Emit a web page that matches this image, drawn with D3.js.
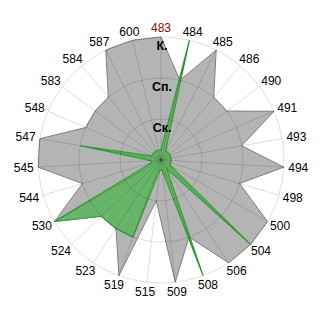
<!DOCTYPE html>
<html lang="ru">
<script src="https://d3js.org/d3.v7.min.js"></script>
<style>
  body { margin: 0; background: #fff; }
  svg text { font-family: "Liberation Sans", Arial, sans-serif; }
</style>
<body>
<svg width="320" height="320" id="chart"></svg>
<script>
  // categories around the radar, clockwise from the top
  var categories = ["483","484","485","486","490","491","493","494","498","500","504","506","508",
                    "509","515","519","523","524","530","544","545","547","548","583","584","587","600"];
  // level names for rings 1..3
  var levels = ["Ск.", "Сп.", "К."];
  // grey series
  var seriesGrey = [3,2,3,2,2,3,2,3,2,3,3,3,2,3,1,3,2,2,3,2,3,3,2,2,2,3,3];
  // green series
  var seriesGreen = [0.25,3,0.25,0.25,0.25,0.25,0.25,0.25,0.25,0.25,3,0.25,3,0.25,0.25,2,2,2,3,0.25,0.25,2,0.25,0.25,0.25,0.25,0.25];
  var highlighted = "483";

  var svg = d3.select("#chart");
  var cx = 161, cy = 160, R = 123;

  var angle = d3.scaleBand().domain(categories).range([0, 2 * Math.PI]).align(0);
  var r = d3.scaleLinear().domain([0, levels.length]).range([0, R]);

  var g = svg.append("g").attr("transform", "translate(" + cx + "," + cy + ")");

  var radial = d3.lineRadial()
    .angle(function(d, i) { return angle(categories[i]); })
    .radius(function(d) { return r(d); })
    .curve(d3.curveLinearClosed);

  g.append("path")
    .attr("d", radial(seriesGrey))
    .attr("fill", "#b4b4b4")
    .attr("stroke", "#7f7f7f")
    .attr("stroke-width", 1);

  g.append("path")
    .attr("d", radial(seriesGreen))
    .attr("fill", "#68b468")
    .attr("stroke", "#35a035")
    .attr("stroke-width", 1.2);

  // grid drawn on top with translucent black
  var grid = g.append("g").attr("fill", "none").attr("stroke", "rgba(0,0,0,0.13)");
  grid.selectAll("circle")
    .data(d3.range(1, levels.length + 1))
    .enter().append("circle")
    .attr("r", function(d) { return r(d); });
  grid.selectAll("line")
    .data(categories)
    .enter().append("line")
    .attr("x1", 0).attr("y1", 0)
    .attr("x2", function(d) { return R * Math.sin(angle(d)); })
    .attr("y2", function(d) { return -R * Math.cos(angle(d)); });

  // level labels
  g.selectAll(".lvl")
    .data(levels)
    .enter().append("text")
    .attr("class", "lvl")
    .attr("x", 1)
    .attr("y", function(d, i) { return -r(i + 1) + 12.5; })
    .attr("text-anchor", "middle")
    .style("font-size", "12.5px")
    .style("font-weight", "bold")
    .text(function(d) { return d; });

  // category labels
  var lw = 10.5, lh = 4.3;
  g.selectAll(".cat")
    .data(categories)
    .enter().append("text")
    .attr("class", "cat")
    .attr("x", function(d) {
      var a = angle(d);
      return (R + 4) * Math.sin(a) + lw * Math.sin(a);
    })
    .attr("y", function(d) {
      var a = angle(d);
      return -(R + 5) * Math.cos(a) - lh * Math.cos(a) + 4.3;
    })
    .attr("text-anchor", "middle")
    .style("font-size", "12px")
    .attr("fill", function(d) { return d === highlighted ? "#8b0a0a" : "#000"; })
    .text(function(d) { return d; });
</script>
</body>
</html>
